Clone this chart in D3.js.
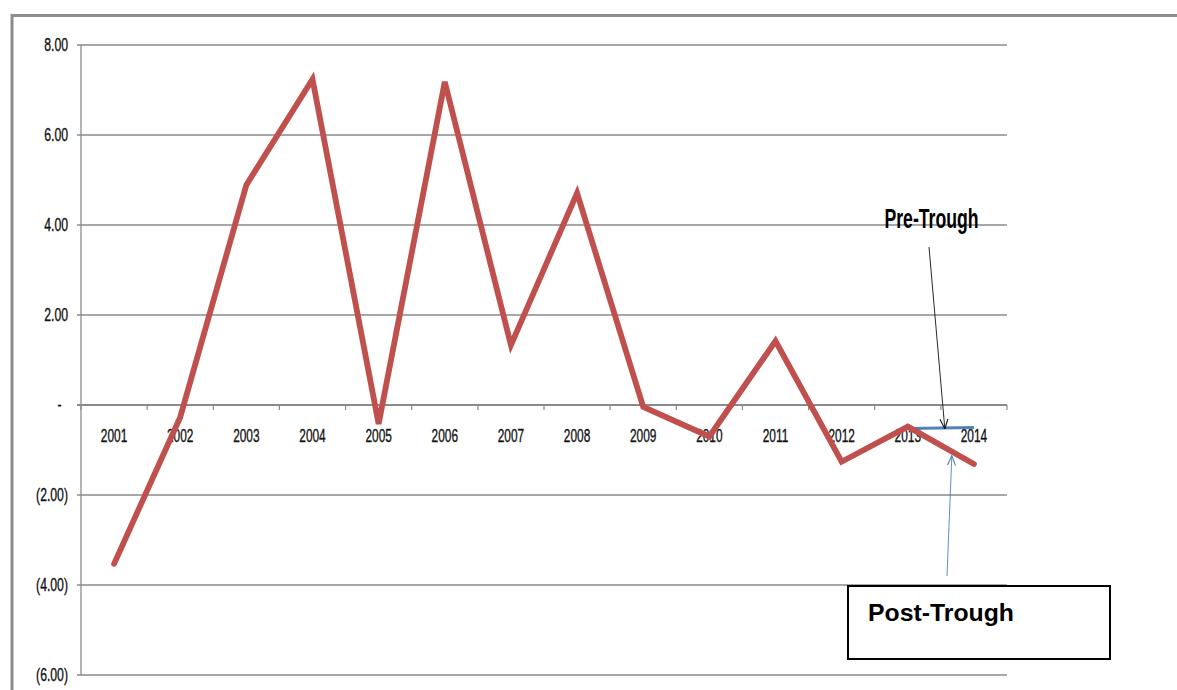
<!DOCTYPE html>
<html>
<head>
<meta charset="utf-8">
<script src="https://cdn.jsdelivr.net/npm/d3@7"></script>
<style>
  html, body { margin: 0; padding: 0; background: #fff; }
  svg { display: block; }
</style>
</head>
<body>
<svg id="chart" width="1177" height="690"></svg>
<script>
// Years along the category axis
const categories = ["2001","2002","2003","2004","2005","2006","2007","2008","2009","2010","2011","2012","2013","2014"];
// Main series (red line)
const mainValues = [-3.53, -0.27, 4.89, 7.24, -0.42, 7.18, 1.33, 4.71, -0.04, -0.70, 1.42, -1.26, -0.48, -1.31];
// Pre-trough series (blue segment, only the last two years)
const preTroughValues = [null, null, null, null, null, null, null, null, null, null, null, null, -0.52, -0.50];
// Value axis ticks and their accounting-style labels
const yTickValues = [8, 6, 4, 2, 0, -2, -4, -6];
const yTickLabels = ["8.00", "6.00", "4.00", "2.00", "-", "(2.00)", "(4.00)", "(6.00)"];

(function () {
const svg = d3.select("#chart");
const plotLeft = 81, plotRight = 1007, plotTop = 45, plotBottom = 675;
const gridColor = "#8a8a8a";
const font = "'Liberation Sans', Arial, sans-serif";

const x = d3.scaleBand().domain(categories).range([plotLeft, plotRight]).padding(0);
const xc = c => x(c) + x.bandwidth() / 2;
const y = d3.scaleLinear().domain([-6, 8]).range([plotBottom, plotTop]);

// Outer chart frame (runs off the right and bottom edges)
svg.append("path")
  .attr("d", "M12,700 L12,15.5 L1190,15.5")
  .attr("fill", "none")
  .attr("stroke", "#8c8c8c")
  .attr("stroke-width", 3);

// Horizontal gridlines and left tick marks
const grid = svg.append("g");
yTickValues.forEach(v => {
  grid.append("line")
    .attr("x1", plotLeft - 4).attr("x2", plotRight)
    .attr("y1", y(v)).attr("y2", y(v))
    .attr("stroke", gridColor).attr("stroke-width", v === 0 ? 1.8 : 1.3);
});
// Value axis line
grid.append("line")
  .attr("x1", plotLeft).attr("x2", plotLeft)
  .attr("y1", plotTop).attr("y2", plotBottom)
  .attr("stroke", gridColor).attr("stroke-width", 1.3);

// Category tick marks on the zero line, between categories
d3.range(categories.length + 1).forEach(i => {
  const px = plotLeft + i * x.step();
  grid.append("line")
    .attr("x1", px).attr("x2", px)
    .attr("y1", y(0)).attr("y2", y(0) + 5)
    .attr("stroke", gridColor).attr("stroke-width", 1.2);
});

// Value axis labels
const yLab = svg.append("g")
  .attr("font-family", font).attr("font-size", 18).attr("fill", "#111")
  .attr("stroke", "#111").attr("stroke-width", 0.35);
yTickValues.forEach((v, i) => {
  const lbl = yTickLabels[i];
  const isDash = lbl === "-";
  yLab.append("text")
    .attr("transform", `translate(${isDash ? 59.5 : 68},${y(v) + 6.4}) scale(0.68,1)`)
    .attr("text-anchor", isDash ? "middle" : "end")
    .text(lbl);
});

// Category labels just below the zero line
const xLab = svg.append("g")
  .attr("font-family", font).attr("font-size", 18).attr("fill", "#111")
  .attr("stroke", "#111").attr("stroke-width", 0.35);
categories.forEach(c => {
  xLab.append("text")
    .attr("transform", `translate(${xc(c)},${y(0) + 36.8}) scale(0.66,1)`)
    .attr("text-anchor", "middle")
    .text(c);
});

// Blue pre-trough segment
const linePre = d3.line()
  .defined(d => d.v !== null)
  .x(d => xc(d.c)).y(d => y(d.v));
svg.append("path")
  .datum(categories.map((c, i) => ({ c, v: preTroughValues[i] })))
  .attr("d", linePre)
  .attr("fill", "none")
  .attr("stroke", "#4F81BD")
  .attr("stroke-width", 3);

// Red main series
const lineMain = d3.line().x(d => xc(d.c)).y(d => y(d.v));
svg.append("path")
  .datum(categories.map((c, i) => ({ c, v: mainValues[i] })))
  .attr("d", lineMain)
  .attr("fill", "none")
  .attr("stroke", "#C0504D")
  .attr("stroke-width", 5.8)
  .attr("stroke-linejoin", "miter")
  .attr("stroke-linecap", "round");

// Open arrowheads for the callouts
const defs = svg.append("defs");
[["arrowBlack", "#111"], ["arrowBlue", "#4F81BD"]].forEach(([id, col]) => {
  defs.append("marker")
    .attr("id", id)
    .attr("viewBox", "0 0 10 10")
    .attr("refX", 10).attr("refY", 5)
    .attr("markerWidth", 10).attr("markerHeight", 10)
    .attr("markerUnits", "userSpaceOnUse")
    .attr("orient", "auto")
    .append("path")
    .attr("d", "M0,1 L10,5 L0,9")
    .attr("fill", "none")
    .attr("stroke", col)
    .attr("stroke-width", 1.1);
});

// Points between 2013 and 2014 that the callouts refer to
const n = categories.length;
const midX = (xc(categories[n - 2]) + xc(categories[n - 1])) / 2;
const preTip = [midX + 4, y((preTroughValues[n - 2] + preTroughValues[n - 1]) / 2) + 1];
const postX = midX + 11;
const t = (postX - xc(categories[n - 2])) / x.step();
const postTip = [postX, y(mainValues[n - 2] + t * (mainValues[n - 1] - mainValues[n - 2])) + 4];

// Pre-Trough label and its arrow
svg.append("text")
  .attr("transform", `translate(931.5,228) scale(0.63,1)`)
  .attr("text-anchor", "middle")
  .attr("font-family", font).attr("font-weight", "bold").attr("font-size", 28)
  .attr("fill", "#000")
  .text("Pre-Trough");
svg.append("line")
  .attr("x1", 929).attr("y1", 247)
  .attr("x2", preTip[0]).attr("y2", preTip[1])
  .attr("stroke", "#111").attr("stroke-width", 0.9)
  .attr("marker-end", "url(#arrowBlack)");

// Post-Trough arrow and boxed label
svg.append("line")
  .attr("x1", 947).attr("y1", 576)
  .attr("x2", postTip[0]).attr("y2", postTip[1])
  .attr("stroke", "#4F81BD").attr("stroke-width", 0.9)
  .attr("marker-end", "url(#arrowBlue)");
svg.append("rect")
  .attr("x", 848).attr("y", 586)
  .attr("width", 262).attr("height", 73)
  .attr("fill", "#fff")
  .attr("stroke", "#000").attr("stroke-width", 2);
svg.append("text")
  .attr("x", 868).attr("y", 620.5)
  .attr("font-family", font).attr("font-weight", "bold").attr("font-size", 24.8)
  .attr("fill", "#000")
  .text("Post-Trough");
})();
</script>
</body>
</html>
